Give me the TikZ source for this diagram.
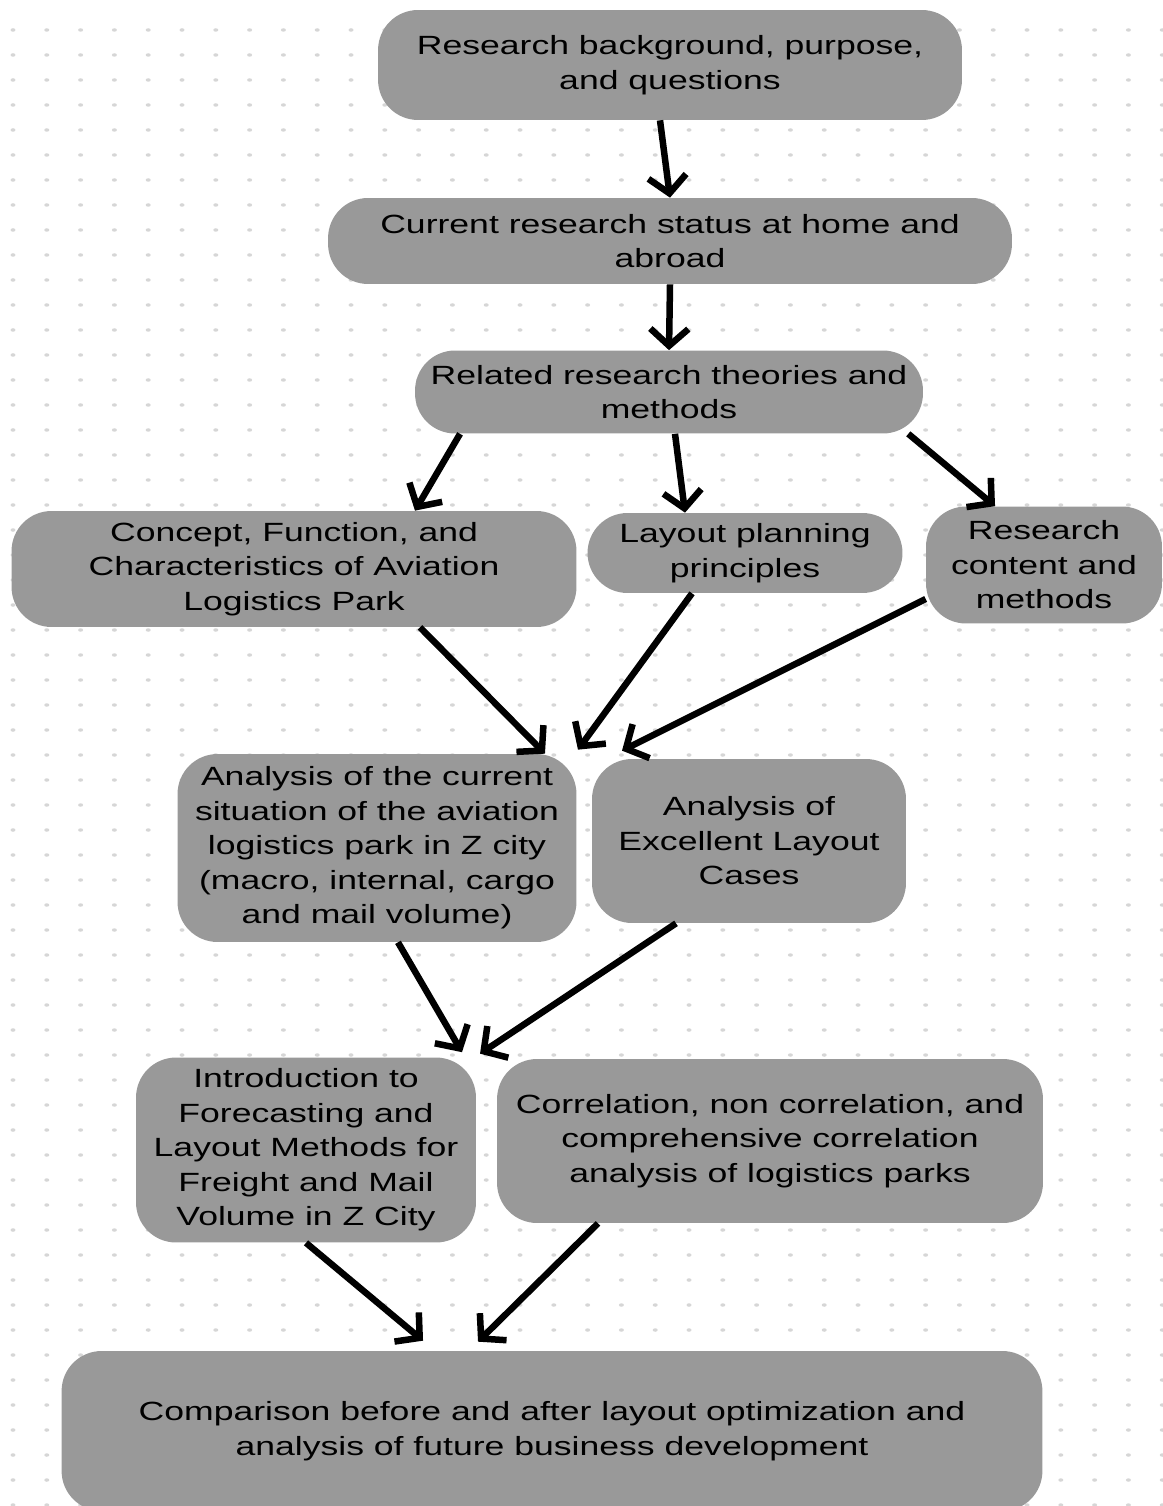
\documentclass[tikz,border=0pt]{standalone}
\usepackage{fontspec}
\setmainfont[FakeStretch=1.35]{Liberation Sans}
\usepackage{xcolor}
\usepackage{tikz}
\usetikzlibrary{arrows.meta}

\definecolor{boxgray}{RGB}{153,153,153}
\definecolor{dotgray}{RGB}{214,214,214}

\begin{document}
\begin{tikzpicture}[x=0.02cm, y=-0.02cm]
    \tikzstyle{block} = [rectangle, fill=boxgray, align=center, rounded corners=0.8cm, inner sep=1pt, font=\fontsize{15}{19.6}\selectfont]
    \tikzstyle{line} = [draw, line width=3.7pt, -{Straight Barb[length=0.34cm, width=0.76cm]}]

    \useasboundingbox (0,0) rectangle (1162,1506);
    % dotted paper
    \foreach \i in {0,...,34}
        \foreach \j in {0,...,59}
            \fill [dotgray] (13+\i*33.8, 30+\j*25) ellipse (0.05cm and 0.035cm);

    \node [block, minimum width=11.68cm, minimum height=2.2cm] (intro) at (670,65) {Research background, purpose,\\and questions};
    \node [block, minimum width=13.68cm, minimum height=1.72cm] (status) at (670,241) {Current research status at home and\\abroad};
    \node [block, minimum width=10.16cm, minimum height=1.66cm] (theory) at (669,392) {Related research theories and\\methods};

    \node [block, minimum width=11.3cm, minimum height=2.32cm] (concept) at (294,569) {Concept, Function, and\\Characteristics of Aviation\\Logistics Park};
    \node [block, minimum width=6.3cm, minimum height=1.6cm] (principle) at (745,553) {Layout planning\\principles};
    \node [block, minimum width=4.72cm, minimum height=2.34cm] (content) at (1044,565) {Research\\content and\\methods};

    \node [block, minimum width=7.98cm, minimum height=3.76cm] (situation) at (377,848) {Analysis of the current\\situation of the aviation\\logistics park in Z city\\(macro, internal, cargo\\and mail volume)};
    \node [block, minimum width=6.28cm, minimum height=3.28cm] (cases) at (749,841) {Analysis of\\Excellent Layout\\Cases};

    \node [block, minimum width=6.8cm, minimum height=3.7cm] (forecast) at (306,1150) {Introduction to\\Forecasting and\\Layout Methods for\\Freight and Mail\\Volume in Z City};
    \node [block, minimum width=10.92cm, minimum height=3.28cm] (correl) at (770,1141) {Correlation, non correlation, and\\comprehensive correlation\\analysis of logistics parks};

    \node [block, minimum width=19.62cm, minimum height=3.2cm] (compare) at (552,1431) {Comparison before and after layout optimization and\\analysis of future business development};

    \path [line] ([xshift=-0.2cm]intro.south) -- (status.north);
    \path [line] (status.south) -- (theory.north);
    \path [line] ([xshift=-4.18cm]theory.south) -- ([xshift=2.42cm]concept.north);
    \path [line] ([xshift=0.12cm]theory.south) -- ([xshift=-1.2cm]principle.north);
    \path [line] ([xshift=-0.3cm]theory.south east) -- ([xshift=-0.98cm]content.north);
    \path [line] ([xshift=2.52cm]concept.south) -- ([xshift=3.36cm]situation.north);
    \path [line] ([xshift=-1.06cm]principle.south) -- ([xshift=4.02cm,yshift=0.08cm]situation.north);
    \path [line] (content.196) -- ([xshift=-2.54cm,yshift=0.16cm]cases.north);
    \path [line] ([xshift=0.42cm]situation.south) -- ([xshift=3.12cm,yshift=0.1cm]forecast.north);
    \path [line] ([xshift=-1.46cm]cases.south) -- ([xshift=-5.8cm,yshift=0.1cm]correl.north);
    \path [line] (forecast.south) -- ([xshift=-2.58cm,yshift=0.2cm]compare.north);
    \path [line] ([xshift=-3.44cm]correl.south) -- ([xshift=-1.48cm,yshift=0.18cm]compare.north);
\end{tikzpicture}
\end{document}
